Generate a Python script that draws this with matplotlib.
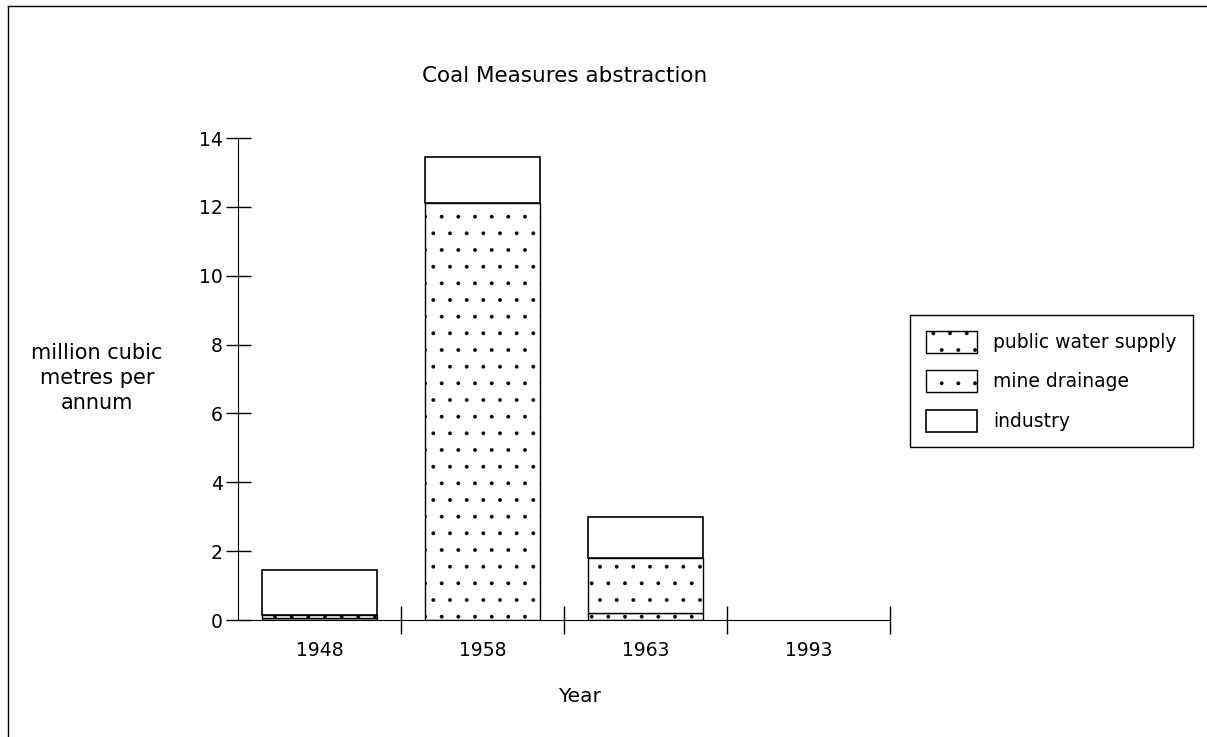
import matplotlib.pyplot as plt
import numpy as np

plt.rcParams['font.family'] = ['DejaVu Sans']
plt.rcParams['hatch.linewidth'] = 0.3
plt.rcParams['hatch.color'] = '#999999'

years = ['1948', '1958', '1963', '1993']
public_water = [0.05, 0.0, 0.2, 0.0]
mine_drainage = [0.1, 12.1, 1.6, 0.0]
industry = [1.3, 1.35, 1.2, 0.0]

fig = plt.figure(figsize=(12.07, 7.37), dpi=100)
ax = fig.add_axes([238 / 1207, 1 - 620 / 737, (890 - 238) / 1207, (620 - 138) / 737])

x = np.arange(len(years))
w = 0.71
b1 = np.array(public_water)
b2 = b1 + np.array(mine_drainage)


def lw(vals, base):
    return [base if v > 0 else 0 for v in vals]


ax.bar(x, public_water, w, color='white', edgecolor='black', linewidth=lw(public_water, 1),
       hatch='.', label='public water supply')
ax.bar(x, mine_drainage, w, bottom=b1, color='white', edgecolor='black',
       linewidth=lw(mine_drainage, 1), hatch='.', label='mine drainage')
ax.bar(x, industry, w, bottom=b2, color='white', edgecolor='black',
       linewidth=lw(industry, 1.2), label='industry')

ax.set_xlim(-0.5, 3.5)
ax.set_ylim(0, 14)
ax.set_yticks(range(0, 15, 2))
ax.tick_params(axis='y', direction='inout', length=18, width=1, labelsize=13.5, pad=2)
ax.set_xticks([0.5, 1.5, 2.5, 3.5])
ax.set_xticklabels([])
ax.tick_params(axis='x', which='major', direction='inout', length=20, width=1)
ax.set_xticks(x, minor=True)
ax.set_xticklabels(years, minor=True, fontsize=13.5)
ax.tick_params(axis='x', which='minor', length=0, pad=15)
for s in ['top', 'right']:
    ax.spines[s].set_visible(False)

fig.text(580 / 1207, 1 - 697 / 737, 'Year', ha='center', va='center', fontsize=14.5)
fig.text(97 / 1207, 1 - 378 / 737, 'million cubic\nmetres per\nannum', ha='center',
         va='center', fontsize=15, linespacing=1.3)
fig.text(565 / 1207, 1 - 76 / 737, 'Coal Measures abstraction', ha='center',
         va='center', fontsize=15.5)

leg = fig.legend(loc='upper left', bbox_to_anchor=(910 / 1207, 1 - 315 / 737),
                 borderaxespad=0, fontsize=13.5, fancybox=False, edgecolor='black',
                 framealpha=1, handlelength=2.7, handleheight=1.4, borderpad=0.85,
                 labelspacing=0.95, handletextpad=0.9)
leg.get_frame().set_linewidth(1)

# page frame
fig.add_artist(plt.Line2D([8 / 1207, 8 / 1207], [0, 1 - 6 / 737], color='black', lw=1))
fig.add_artist(plt.Line2D([8 / 1207, 1], [1 - 6 / 737, 1 - 6 / 737], color='black', lw=1))

fig.savefig('out.png', dpi=100)
